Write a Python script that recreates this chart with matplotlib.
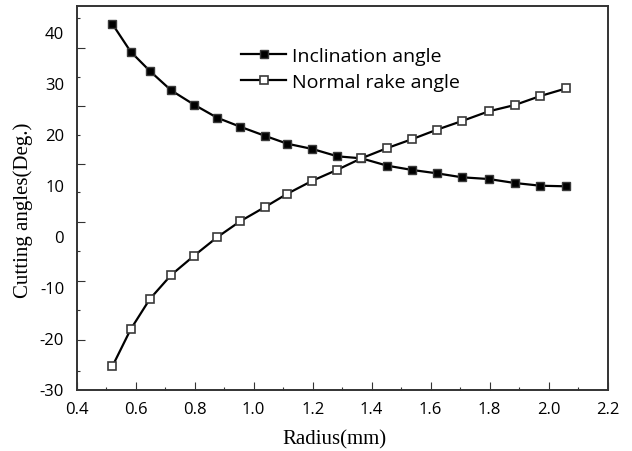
import matplotlib
matplotlib.use("Agg")
import matplotlib.pyplot as plt
from matplotlib.ticker import FixedLocator, MultipleLocator

# ---- data ----
radius = [0.521, 0.583, 0.648, 0.720, 0.798, 0.876, 0.954, 1.040, 1.114, 1.199,
          1.284, 1.365, 1.453, 1.538, 1.621, 1.706, 1.797, 1.885, 1.972, 2.060]
inclination = [41.62, 36.19, 32.41, 28.62, 25.80, 23.25, 21.49, 19.66, 18.15, 17.12,
               15.68, 15.29, 13.84, 13.00, 12.35, 11.57, 11.23, 10.45, 9.92, 9.80]
normal_rake = [-25.48, -18.23, -12.29, -7.59, -3.80, -0.19, 2.94, 5.80, 8.35, 10.90,
               13.06, 15.29, 17.31, 19.07, 20.90, 22.60, 24.51, 25.74, 27.51, 29.01]

y_tick_labels = [40, 30, 20, 10, 0, -10, -20, -30]
x_tick_labels = [0.4, 0.6, 0.8, 1.0, 1.2, 1.4, 1.6, 1.8, 2.0, 2.2]
# tick-mark positions drawn on the y axis in the reference (not aligned with labels)
y_marks_long = [36.92, 25.49, 14.23, 2.75, -8.70, -20.27]
y_marks_short = [42.80, 31.29, 19.92, 8.63, -2.94, -14.39, -26.35]

series_names = ["Inclination angle", "Normal rake angle"]

SANS = ["Open Sans", "DejaVu Sans"]
SERIF = ["Liberation Serif", "DejaVu Serif"]
AXC = "#333333"

fig = plt.figure(figsize=(6.32, 4.52), dpi=100)
ax = fig.add_axes([76.7 / 632, 61 / 452, 531 / 632, 384.5 / 452])

ax.plot(radius, inclination, color="black", lw=1.6, marker="s", ms=6.3,
        mfc="black", mec="#3a3a3a", mew=1.0, label=series_names[0], zorder=3)
ax.plot(radius, normal_rake, color="black", lw=1.6, marker="s", ms=6.3,
        mfc="white", mec="#3a3a3a", mew=1.2, label=series_names[1], zorder=4)

ax.set_xlim(0.4, 2.2)
ax.set_ylim(-30.13, 45.25)

# x ticks
ax.xaxis.set_major_locator(FixedLocator(x_tick_labels))
ax.xaxis.set_minor_locator(MultipleLocator(0.1))
ax.set_xticklabels([f"{v:.1f}" for v in x_tick_labels], family=SANS, fontsize=12)
ax.tick_params(axis="x", which="major", direction="in", length=5.5, width=0.8,
               color=AXC, pad=8, top=False)
ax.tick_params(axis="x", which="minor", direction="in", length=2.5, width=0.8,
               color=AXC, top=False)

# y labels (no marks) on the main axis
ax.yaxis.set_major_locator(FixedLocator(y_tick_labels))
ax.set_yticklabels([str(v) for v in y_tick_labels], family=SANS, fontsize=12)
ax.tick_params(axis="y", which="major", length=0, pad=9, right=False)
ax.yaxis.set_minor_locator(FixedLocator([]))

# y tick marks on a twin axis
ax2 = ax.twinx()
ax2.set_ylim(ax.get_ylim())
ax2.yaxis.set_ticks_position("left")
ax2.yaxis.set_major_locator(FixedLocator(y_marks_long))
ax2.yaxis.set_minor_locator(FixedLocator(y_marks_short))
ax2.tick_params(axis="y", which="major", direction="in", length=5.5, width=0.8,
                color=AXC, labelleft=False, labelright=False)
ax2.tick_params(axis="y", which="minor", direction="in", length=2.5, width=0.8,
                color=AXC, labelleft=False, labelright=False)
for s in ax2.spines.values():
    s.set_visible(False)

for s in ax.spines.values():
    s.set_color(AXC)
    s.set_linewidth(1.4)

ax.set_xlabel("Radius(mm)", family=SERIF, fontsize=15)
ax.set_ylabel("Cutting angles(Deg.)", family=SERIF, fontsize=15)
ax.xaxis.set_label_coords(0.486, -0.103)
ax.yaxis.set_label_coords(-0.083, 0.469)

leg = ax.legend(loc="center left", bbox_to_anchor=(240.7 / 632, 1 - 69.7 / 452),
                bbox_transform=fig.transFigure, frameon=False,
                prop={"family": SANS, "size": 14}, handlelength=2.35,
                handletextpad=0.3, labelspacing=0.42, borderpad=0, borderaxespad=0)

fig.savefig("out.png", dpi=100)
